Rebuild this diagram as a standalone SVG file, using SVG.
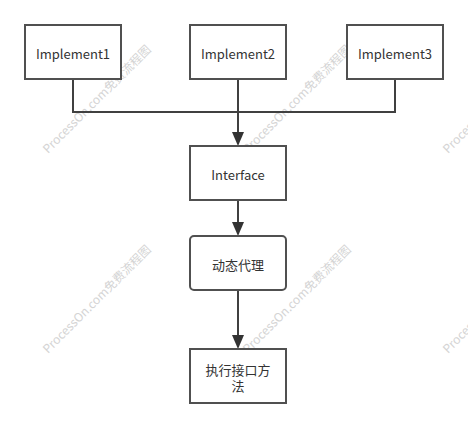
<svg xmlns="http://www.w3.org/2000/svg" width="468" height="428" viewBox="0 0 468 428">
<defs>
<style>
.box{fill:#fff;stroke:#505050;stroke-width:2}
.lbl{font-family:"Noto Sans CJK SC","Noto Sans",sans-serif;font-size:13px;fill:#333;text-anchor:middle;dominant-baseline:central}
.wm{font-family:"Noto Sans CJK SC","Noto Sans",sans-serif;font-size:12px;fill:#d4d4d4}
.con{fill:none;stroke:#404040;stroke-width:2}
.head{fill:#333}
</style>
</defs>
<rect width="468" height="428" fill="#fff"/>
<g id="watermarks">
<text class="wm" transform="translate(48,154) rotate(-45)">ProcessOn.com免费流程图</text>
<text class="wm" transform="translate(248,154) rotate(-45)">ProcessOn.com免费流程图</text>
<text class="wm" transform="translate(448,154) rotate(-45)">ProcessOn.com免费流程图</text>
<text class="wm" transform="translate(48,354) rotate(-45)">ProcessOn.com免费流程图</text>
<text class="wm" transform="translate(248,354) rotate(-45)">ProcessOn.com免费流程图</text>
<text class="wm" transform="translate(448,354) rotate(-45)">ProcessOn.com免费流程图</text>
</g>
<g id="connectors">
<polyline class="con" points="73,79 73,112 395,112 395,79"/>
<path d="M238,79 L238,133" class="con"/>
<path class="head" d="M232,132 L238,146 L244,132 Z"/>
<path d="M238,200 L238,223" class="con"/>
<path class="head" d="M232,222 L238,236 L244,222 Z"/>
<path d="M238,290 L238,336" class="con"/>
<path class="head" d="M232,335 L238,349 L244,335 Z"/>
</g>
<g id="impl1"><rect class="box" x="25" y="25" width="96" height="54"/><text class="lbl" x="73" y="53">Implement1</text></g>
<g id="impl2"><rect class="box" x="190" y="25" width="96" height="54"/><text class="lbl" x="238" y="53">Implement2</text></g>
<g id="impl3"><rect class="box" x="347" y="25" width="96" height="54"/><text class="lbl" x="395" y="53">Implement3</text></g>
<g id="interface"><rect class="box" x="190" y="146" width="96" height="54"/><text class="lbl" x="238" y="174">Interface</text></g>
<g id="proxy"><rect class="box" x="190" y="236" width="96" height="54" rx="4"/><text class="lbl" x="238" y="264">动态代理</text></g>
<g id="invoke"><rect class="box" x="190" y="349" width="96" height="54"/><text class="lbl" x="238" y="369">执行接口方<tspan x="238" dy="16">法</tspan></text></g>
</svg>
